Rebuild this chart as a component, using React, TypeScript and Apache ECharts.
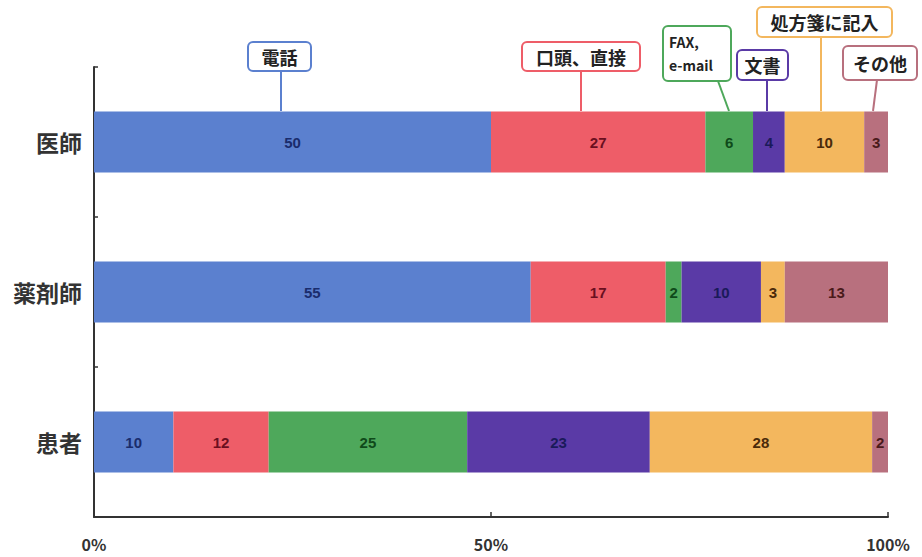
import React, { useEffect, useRef } from "react";
import * as echarts from "echarts";

const categories = ["医師", "薬剤師", "患者"];
const seriesNames = ["電話", "口頭、直接", "FAX, e-mail", "文書", "処方箋に記入", "その他"];
const telephone = [50, 55, 10];
const oral = [27, 17, 12];
const faxMail = [6, 2, 25];
const documents = [4, 10, 23];
const prescription = [10, 3, 28];
const others = [3, 13, 2];
const xTicks = [0, 50, 100];

const seriesValues = [telephone, oral, faxMail, documents, prescription, others];
const barColors = ["#5b80cf", "#ee5d68", "#4ea85b", "#5a3aa6", "#f3b75e", "#b8707e"];
const labelColors = ["#1a2c6c", "#6a0f1f", "#0f4a1a", "#1a1a5a", "#4a2a0a", "#4a1a1a"];

// callout annotation layout (pixels)
const callouts = [
  { text: "電話", box: [248, 42, 63, 29], line: [281, 71, 281, 111] },
  { text: "口頭、直接", box: [522, 42, 118, 29], line: [581, 71, 581, 111] },
  { text: "FAX,\ne-mail", box: [663, 26, 68, 55], line: [718, 81, 729, 111] },
  { text: "文書", box: [737, 50, 51, 30], line: [767, 80, 767, 111] },
  { text: "処方箋に記入", box: [757, 7, 135, 30], line: [821, 37, 821, 111] },
  { text: "その他", box: [843, 46, 74, 34], line: [877, 80, 873, 111] },
];

export default function App() {
  const ref = useRef<HTMLDivElement>(null);
  useEffect(() => {
    if (!ref.current) return;
    const chart = echarts.init(ref.current, undefined, { renderer: "svg" });
    const font = "'Noto Sans CJK JP', 'Noto Sans', sans-serif";
    const graphics: any[] = [];
    callouts.forEach((c, i) => {
      const [bx, by, bw, bh] = c.box;
      const [x1, y1, x2, y2] = c.line;
      graphics.push({
        type: "line",
        shape: { x1, y1, x2, y2 },
        style: { stroke: barColors[i], lineWidth: 2 },
        z: 10,
      });
      graphics.push({
        type: "rect",
        shape: { x: bx, y: by, width: bw, height: bh, r: 5 },
        style: { fill: "#ffffff", stroke: barColors[i], lineWidth: 2 },
        z: 11,
      });
      const multi = c.text.includes("\n");
      graphics.push({
        type: "text",
        x: multi ? bx + 6 : bx + bw / 2,
        y: by + bh / 2,
        style: {
          text: c.text,
          fill: "#222",
          font: multi ? `bold 14px ${font}` : `bold 18px ${font}`,
          align: multi ? "left" : "center",
          verticalAlign: "middle",
          lineHeight: multi ? 23 : 22,
        },
        z: 12,
      });
    });

    chart.setOption({
      animation: false,
      backgroundColor: "#ffffff",
      grid: { left: 94, right: 34, top: 67, bottom: 40, containLabel: false },
      xAxis: {
        type: "value",
        min: 0,
        max: 100,
        interval: 50,
        axisLine: { show: true, lineStyle: { color: "#333", width: 2 } },
        axisTick: { show: true, inside: true, length: 5, lineStyle: { color: "#333", width: 1.5 } },
        splitLine: { show: false },
        axisLabel: {
          margin: 19,
          color: "#333",
          fontWeight: "bold",
          fontSize: 16,
          fontFamily: font,
          formatter: (v: number) => (xTicks.includes(v) ? v + "%" : ""),
        },
      },
      yAxis: {
        type: "category",
        data: categories,
        inverse: true,
        axisLine: { show: true, lineStyle: { color: "#333", width: 2 } },
        axisTick: { show: true, inside: true, length: 4, lineStyle: { color: "#333", width: 1.5 } },
        axisLabel: {
          margin: 12,
          color: "#333",
          fontWeight: "bold",
          fontSize: 23,
          fontFamily: font,
        },
      },
      series: seriesNames.map((name, i) => ({
        name,
        type: "bar",
        stack: "total",
        barWidth: 61,
        data: seriesValues[i],
        itemStyle: { color: barColors[i] },
        label: {
          show: true,
          position: "inside",
          color: labelColors[i],
          fontWeight: "bold",
          fontSize: 15,
          fontFamily: "'Liberation Sans', Arial, sans-serif",
        },
      })),
      graphic: graphics,
    });
    return () => chart.dispose();
  }, []);
  return <div ref={ref} style={{ width: 922, height: 557, position: "absolute", left: 0, top: 0 }} />;
}
